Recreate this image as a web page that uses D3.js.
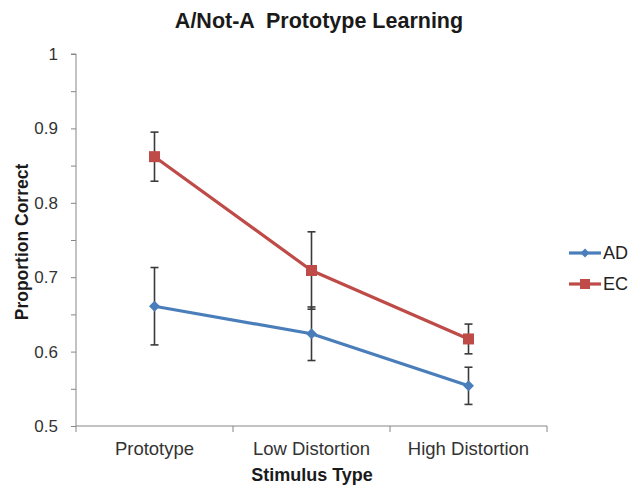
<!DOCTYPE html>
<html><head><meta charset="utf-8">
<script src="https://cdn.jsdelivr.net/npm/d3@7"></script>
<style>body{margin:0;background:#fff;} text{font-family:"Liberation Sans",Arial,sans-serif;}</style>
</head><body>
<svg id="c" width="641" height="498"></svg>
<script>
const categories = ["Prototype", "Low Distortion", "High Distortion"];
const seriesNames = ["AD", "EC"];
const adValues = [0.661, 0.624, 0.554];
const adErrors = [0.052, 0.036, 0.025];
const ecValues = [0.862, 0.709, 0.617];
const ecErrors = [0.033, 0.052, 0.020];
const yTickValues = [0.5, 0.6, 0.7, 0.8, 0.9, 1];
const yMinorTicks = [0.5, 0.55, 0.6, 0.65, 0.7, 0.75, 0.8, 0.85, 0.9, 0.95, 1];
const chartTitle = "A/Not-A  Prototype Learning";
const xTitle = "Stimulus Type";
const yTitle = "Proportion Correct";

(function () {
const colors = {AD: "#4A7EBB", EC: "#BE4B48"};
const series = [
  {name: "AD", values: adValues, errors: adErrors, shape: "diamond"},
  {name: "EC", values: ecValues, errors: ecErrors, shape: "square"}
];

const svg = d3.select("#c");
const pLeft = 76, pRight = 547, pTop = 54, pBottom = 426;
const x = d3.scaleBand().domain(categories).range([pLeft, pRight]);
const y = d3.scaleLinear().domain([0.5, 1]).range([pBottom, pTop]);
const axisColor = "#868686";

svg.append("text").attr("x", 319).attr("y", 28).attr("text-anchor", "middle")
  .style("white-space", "pre")
  .attr("font-size", 21.5).attr("font-weight", "bold").attr("fill", "#1a1a1a").text(chartTitle);

const yAxis = d3.axisLeft(y).tickValues(yMinorTicks).tickSize(5).tickFormat("");
const gy = svg.append("g").attr("transform", `translate(${pLeft},0)`).call(yAxis);
gy.select(".domain").attr("stroke", axisColor).attr("d", `M-5,${pTop}H0V${pBottom}`);
gy.selectAll(".tick line").attr("stroke", axisColor);
svg.append("g").selectAll("text").data(yTickValues).join("text")
  .attr("x", 58).attr("y", d => y(d) + 6).attr("text-anchor", "end")
  .attr("font-size", 17).attr("fill", "#333").text(d => d3.format("")(d));

const gx = svg.append("g").attr("transform", `translate(0,${pBottom})`);
gx.append("line").attr("x1", pLeft).attr("x2", pRight).attr("stroke", axisColor);
const bounds = [pLeft].concat(categories.map(c => x(c) + x.bandwidth()));
gx.selectAll("line.t").data(bounds).join("line").attr("class", "t")
  .attr("x1", d => d).attr("x2", d => d).attr("y1", 0).attr("y2", 6).attr("stroke", axisColor);
gx.selectAll("text").data(categories).join("text")
  .attr("x", c => x(c) + x.bandwidth() / 2).attr("y", 29).attr("text-anchor", "middle")
  .attr("font-size", 18.5).attr("fill", "#333").text(c => c);

svg.append("text").attr("x", 312).attr("y", 55 + pBottom).attr("text-anchor", "middle")
  .attr("font-size", 18).attr("font-weight", "bold").attr("fill", "#1a1a1a").text(xTitle);
svg.append("text").attr("transform", `translate(28,242) rotate(-90)`).attr("text-anchor", "middle")
  .attr("font-size", 17.5).attr("font-weight", "bold").attr("fill", "#1a1a1a").text(yTitle);

const cx = c => x(c) + x.bandwidth() / 2;
const line = d3.line().x(d => cx(d.c)).y(d => y(d.v));

series.forEach(s => {
  const pts = categories.map((c, i) => ({c, v: s.values[i], e: s.errors[i]}));
  const g = svg.append("g");
  pts.forEach(p => {
    const eg = g.append("g").attr("stroke", "#3a3a3a").attr("stroke-width", 1.6);
    eg.append("line").attr("x1", cx(p.c)).attr("x2", cx(p.c)).attr("y1", y(p.v + p.e)).attr("y2", y(p.v - p.e));
    [p.v + p.e, p.v - p.e].forEach(v => eg.append("line")
      .attr("x1", cx(p.c) - 4).attr("x2", cx(p.c) + 4).attr("y1", y(v)).attr("y2", y(v)));
  });
  g.append("path").datum(pts).attr("d", line).attr("fill", "none")
    .attr("stroke", colors[s.name]).attr("stroke-width", 3.2).attr("stroke-linejoin", "round");
  g.selectAll("path.m").data(pts).join("path").attr("class", "m")
    .attr("transform", p => `translate(${cx(p.c)},${y(p.v)})` + (s.shape === "diamond" ? " rotate(45)" : ""))
    .attr("d", s.shape === "diamond" ? d3.symbol(d3.symbolSquare, 60)() : d3.symbol(d3.symbolSquare, 121)())
    .attr("fill", colors[s.name]);
});

const leg = svg.append("g");
series.forEach((s, i) => {
  const ly = 253 + i * 31;
  leg.append("line").attr("x1", 569).attr("x2", 601).attr("y1", ly).attr("y2", ly)
    .attr("stroke", colors[s.name]).attr("stroke-width", 3.2);
  leg.append("path")
    .attr("transform", `translate(585,${ly})` + (s.shape === "diamond" ? " rotate(45)" : ""))
    .attr("d", s.shape === "diamond" ? d3.symbol(d3.symbolSquare, 40)() : d3.symbol(d3.symbolSquare, 100)())
    .attr("fill", colors[s.name]);
  leg.append("text").attr("x", 603).attr("y", ly + 6).attr("font-size", 18).attr("fill", "#222").text(s.name);
});
})();
</script>
</body></html>
